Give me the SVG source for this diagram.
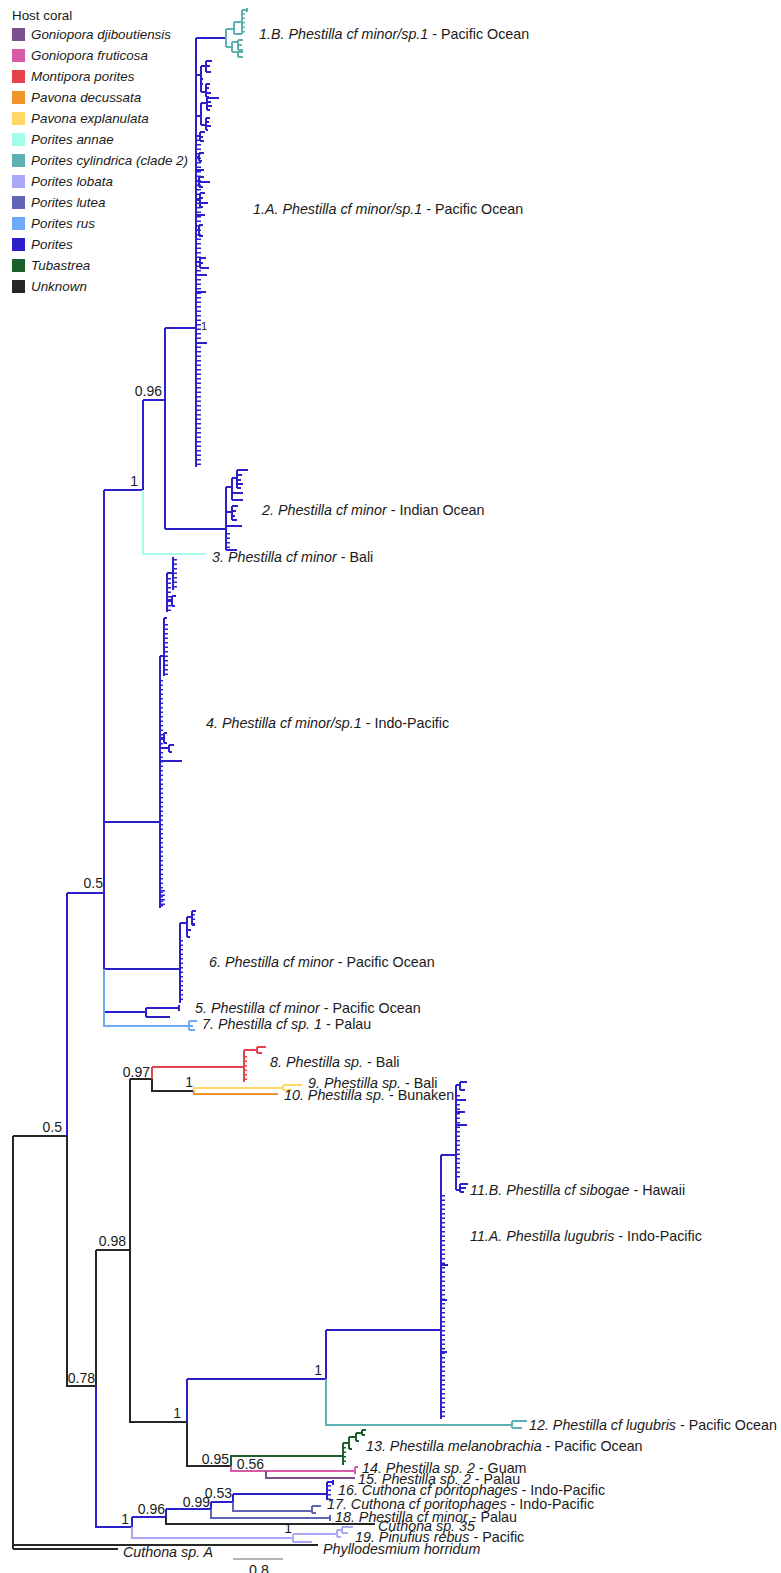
<svg xmlns="http://www.w3.org/2000/svg" width="781" height="1573" viewBox="0 0 781 1573">
<style>
text{font-family:"Liberation Sans",Arial,sans-serif;fill:#1a1a1a}
.lab{font-size:14.3px}
.sup{font-size:14px;text-anchor:end}
.leg{font-size:13.4px;font-style:italic}
.i{font-style:italic}
path,line{fill:none;stroke-width:2}
.b{stroke:#2B20CC}
.t{stroke:#5FB0B0}
.c{stroke:#A6FCEB}
.lb{stroke:#6EA9F7}
.r{stroke:#E5424B}
.y{stroke:#FFD865}
.o{stroke:#EF952B}
.g{stroke:#1C5F2B}
.p{stroke:#D75BA6}
.pu{stroke:#7B4E8E}
.s{stroke:#6065B6}
.l{stroke:#ABA8F8}
.k{stroke:#262626}
.cm{stroke-dasharray:1.5 3}
line.w3{stroke-width:3}
line.w4{stroke-width:4}
line.w5{stroke-width:5}
.bar{stroke:#666;stroke-width:1}
</style>
<rect width="781" height="1573" fill="#ffffff"/>

<g id="legend">
  <text x="12" y="20" style="font-size:13.4px">Host coral</text>
  <g id="leg-gdj"><rect x="12" y="28" width="13" height="13" fill="#7B4E8E"/><text class="leg" x="31" y="39">Goniopora djiboutiensis</text></g>
  <g id="leg-gfr"><rect x="12" y="49" width="13" height="13" fill="#D75BA6"/><text class="leg" x="31" y="60">Goniopora fruticosa</text></g>
  <g id="leg-mpo"><rect x="12" y="70" width="13" height="13" fill="#E5424B"/><text class="leg" x="31" y="81">Montipora porites</text></g>
  <g id="leg-pde"><rect x="12" y="91" width="13" height="13" fill="#EF952B"/><text class="leg" x="31" y="102">Pavona decussata</text></g>
  <g id="leg-pex"><rect x="12" y="112" width="13" height="13" fill="#FFD865"/><text class="leg" x="31" y="123">Pavona explanulata</text></g>
  <g id="leg-pan"><rect x="12" y="133" width="13" height="13" fill="#A6FCEB"/><text class="leg" x="31" y="144">Porites annae</text></g>
  <g id="leg-pcy"><rect x="12" y="154" width="13" height="13" fill="#5FB0B0"/><text class="leg" x="31" y="165">Porites cylindrica (clade 2)</text></g>
  <g id="leg-plo"><rect x="12" y="175" width="13" height="13" fill="#ABA8F8"/><text class="leg" x="31" y="186">Porites lobata</text></g>
  <g id="leg-plu"><rect x="12" y="196" width="13" height="13" fill="#6065B6"/><text class="leg" x="31" y="207">Porites lutea</text></g>
  <g id="leg-pru"><rect x="12" y="217" width="13" height="13" fill="#6EA9F7"/><text class="leg" x="31" y="228">Porites rus</text></g>
  <g id="leg-por"><rect x="12" y="238" width="13" height="13" fill="#2B20CC"/><text class="leg" x="31" y="249">Porites</text></g>
  <g id="leg-tub"><rect x="12" y="259" width="13" height="13" fill="#1C5F2B"/><text class="leg" x="31" y="270">Tubastrea</text></g>
  <g id="leg-unk"><rect x="12" y="280" width="13" height="13" fill="#262626"/><text class="leg" x="31" y="291">Unknown</text></g>
</g>

<g id="connectors">
  <!-- black backbone -->
  <path class="k" d="M13 1136V1549M13 1136H67M13 1545H318M13 1549H118M67 1136V1386H96M96 1250V1386M96 1250H130M130 1079V1422H187M130 1079H152M152 1079V1091H194M187 1422V1466H231M166 1517V1524H375"/>
  <!-- blue upper -->
  <path class="b" d="M67 893V1136M67 893H104M104 490V969M104 490H143M143 400V490M143 400H165M165 328V529M165 328H196M165 529H226M196 38V467M196 38H226"/>
  <!-- 1.A subclades -->
  <path class="b" d="M196 75H201M201 66V92M201 66H206M206 61V72M206 61H212M206 66H210M206 72H211M201 92H206M206 84V97M206 84H210M206 88H209M206 93H211M206 97H209M201 79H203M201 84H203
  M196 116H201M201 103V125M201 103H207M207 98V110M207 98H219M207 102H211M207 106H212M207 110H210M201 125H206M206 118V130M206 118H210M206 122H209M206 126H211M206 130H208
  M196 136H200M200 132V141M200 132H205M200 137H203M200 141H204
  M196 157H199M199 153V161M199 153H204M199 161H202
  M196 170H204
  M196 181H199M199 177V187M199 177H204M199 182H210M199 187H203
  M196 200H200M200 193V207M200 193H205M200 198H203M200 203H208M200 207H203
  M196 215H205M196 230H199M199 225V236M199 225H203M199 236H203
  M196 262H200M200 258V268M200 258H206M200 263H203M200 268H209M196 275H207M196 292H206M196 343H207"/>
  <line class="b cm w5" x1="198.5" y1="135" x2="198.5" y2="467"/>
  <!-- 1.B teal -->
  <path class="t" d="M226 29V47M226 29H234M234 22V34M234 22H242M242 10V34M234 34H242M242 10H247M247 8V12M226 47H232M232 42V52M232 42H238M238 40V50M238 40H243M238 45H242M238 50H243M232 52H238M238 52V57M238 52H243M238 57H243"/>
  <line class="t cm w3" x1="243.5" y1="13" x2="243.5" y2="33"/>
  <!-- clade 2 -->
  <path class="b" d="M226 487V550M226 487H232M232 478V500M232 478H237M237 470V488M237 470H248M237 475H242M237 480H241M237 484H243M237 488H241M232 493H243M232 500H243M226 512H232M232 506V520M232 506H238M232 511H236M232 516H235M232 520H237M226 526H242M226 550H237"/>
  <line class="b cm w4" x1="228" y1="533" x2="228" y2="548"/>
  <!-- clade 3 -->
  <path class="c" d="M143 490V554H206"/>
  <!-- clade 4 -->
  <path class="b" d="M104 822H160M160 656V908M160 656H164M164 618V676M164 618H167M167 573V612M167 573H173M173 557V590M167 600H172M172 596V606M172 596H176M172 606H175M160 738H164M164 733V743M164 733H167M164 743H167M160 748H169M169 745V752M169 745H174M169 752H172M160 761H182"/>
  <line class="b cm w4" x1="175" y1="559" x2="175" y2="590"/>
  <line class="b cm w4" x1="169" y1="578" x2="169" y2="612"/>
  <line class="b cm w4" x1="166" y1="624" x2="166" y2="676"/>
  <line class="b cm w3" x1="161.5" y1="680" x2="161.5" y2="908"/>
  <line class="b cm w5" x1="162.5" y1="890" x2="162.5" y2="907"/>
  <!-- clade 6 -->
  <path class="b" d="M104 969H180M180 923V1003M180 923H187M187 917V937M187 930H191M187 937H190M187 917H192M192 911V925M192 911H196M192 925H195"/>
  <line class="b cm w3" x1="181.5" y1="940" x2="181.5" y2="1003"/>
  <line class="b cm w3" x1="193.5" y1="914" x2="193.5" y2="924"/>
  <!-- clade 5 -->
  <path class="b" d="M104 1012H146M146 1008V1017M146 1008H179M179 1005V1011M146 1017H170"/>
  <!-- clade 7 -->
  <path class="lb" d="M104 969V1026H189M189 1021V1030M189 1021H197M189 1026H193M189 1030H195"/>
  <!-- clade 8 -->
  <path class="r" d="M152 1067V1079M152 1067H244M244 1050V1082M244 1050H257M257 1047V1053M257 1047H266M257 1053H262"/>
  <line class="r cm w3" x1="245.5" y1="1056" x2="245.5" y2="1082"/>
  <!-- clades 9 / 10 -->
  <path class="y" d="M194 1091V1088H283M283 1085V1090M283 1085H302M283 1090H292"/>
  <path class="o" d="M194 1091V1094H278"/>
  <!-- clade 11 -->
  <path class="b" d="M187 1379V1422M187 1379H326M326 1330V1379M326 1330H441M441 1155V1419M441 1155H456M456 1085V1190M456 1085H460M460 1082V1090M460 1082H467M460 1090H465M456 1100H466M456 1112H465M456 1125H467M456 1190H460M460 1184V1192M460 1184H468M460 1188H466M460 1192H464M441 1265H448M441 1300H447M441 1352H447"/>
  <line class="b cm w4" x1="458" y1="1095" x2="458" y2="1178"/>
  <line class="b cm w4" x1="443" y1="1195" x2="443" y2="1419"/>
  <!-- clade 12 -->
  <path class="t" d="M326 1379V1425H512M512 1421V1428M512 1421H527M512 1428H522"/>
  <!-- clade 13 -->
  <path class="g" d="M231 1466V1456H343M343 1443V1465M343 1443H349M349 1437V1449M349 1449H352M349 1437H356M356 1433V1441M356 1441H359M356 1433H362M362 1430V1435M362 1430H366M362 1435H365"/>
  <line class="g cm w3" x1="344.5" y1="1447" x2="344.5" y2="1465"/>
  <!-- clades 14 / 15 -->
  <path class="p" d="M231 1466V1471H355M355 1467V1474M355 1467H358"/>
  <path class="pu" d="M266 1471V1478H355"/>
  <!-- clades 16 - 18 -->
  <path class="b" d="M96 1386V1527H132M132 1517V1527M132 1517H166M166 1509V1517M166 1509H211M211 1502V1509M211 1502H233M233 1494V1502M233 1494H327M327 1482V1500M327 1482H333M333 1480V1485"/>
  <line class="b cm w4" x1="329" y1="1485" x2="329" y2="1500"/>
  <path class="s" d="M233 1502V1511H312M312 1506V1513M312 1506H321M312 1513H316M211 1509V1518H330M330 1515V1521"/>
  <!-- clade 19 -->
  <path class="l" d="M132 1527V1538H293M293 1534V1542M293 1542H312M293 1534H337M337 1530V1537M337 1537H341M337 1530H342M342 1527V1533M342 1527H353M342 1533H348"/>
  <!-- scale bar -->
  <path class="bar" d="M233 1559H283"/>
</g>

<g id="support">
  <text class="sup" x="62" y="1132">0.5</text>
  <text class="sup" x="103" y="888">0.5</text>
  <text class="sup" x="138" y="486">1</text>
  <text class="sup" x="162" y="396">0.96</text>
  <text x="201" y="330" style="font-size:11px">1</text>
  <text class="sup" x="150" y="1077">0.97</text>
  <text class="sup" x="193" y="1087">1</text>
  <text class="sup" x="126" y="1246">0.98</text>
  <text class="sup" x="181" y="1418">1</text>
  <text class="sup" x="322" y="1375">1</text>
  <text class="sup" x="95" y="1383">0.78</text>
  <text class="sup" x="229" y="1464">0.95</text>
  <text class="sup" x="264" y="1469">0.56</text>
  <text class="sup" x="232" y="1498">0.53</text>
  <text class="sup" x="210" y="1507">0.99</text>
  <text class="sup" x="165" y="1514">0.96</text>
  <text class="sup" x="129" y="1524">1</text>
  <text class="sup" x="292" y="1533">1</text>
</g>

<g id="tips">
  <g id="clade-1B"><text class="lab" x="259" y="39"><tspan class="i">1.B. Phestilla cf minor/sp.1</tspan> - Pacific Ocean</text></g>
  <g id="clade-1A"><text class="lab" x="253" y="214"><tspan class="i">1.A. Phestilla cf minor/sp.1</tspan> - Pacific Ocean</text></g>
  <g id="clade-2"><text class="lab" x="262" y="515"><tspan class="i">2. Phestilla cf minor</tspan> - Indian Ocean</text></g>
  <g id="clade-3"><text class="lab" x="212" y="562"><tspan class="i">3. Phestilla cf minor</tspan> - Bali</text></g>
  <g id="clade-4"><text class="lab" x="206" y="728"><tspan class="i">4. Phestilla cf minor/sp.1</tspan> - Indo-Pacific</text></g>
  <g id="clade-6"><text class="lab" x="209" y="967"><tspan class="i">6. Phestilla cf minor</tspan> - Pacific Ocean</text></g>
  <g id="clade-5"><text class="lab" x="195" y="1013"><tspan class="i">5. Phestilla cf minor</tspan> - Pacific Ocean</text></g>
  <g id="clade-7"><text class="lab" x="202" y="1029"><tspan class="i">7. Phestilla cf sp. 1</tspan> - Palau</text></g>
  <g id="clade-8"><text class="lab" x="270" y="1067"><tspan class="i">8. Phestilla sp.</tspan> - Bali</text></g>
  <g id="clade-9"><text class="lab" x="308" y="1088"><tspan class="i">9. Phestilla sp.</tspan> - Bali</text></g>
  <g id="clade-10"><text class="lab" x="284" y="1100"><tspan class="i">10. Phestilla sp.</tspan> - Bunaken</text></g>
  <g id="clade-11B"><text class="lab" x="470" y="1195"><tspan class="i">11.B. Phestilla cf sibogae</tspan> - Hawaii</text></g>
  <g id="clade-11A"><text class="lab" x="470" y="1241"><tspan class="i">11.A. Phestilla lugubris</tspan> - Indo-Pacific</text></g>
  <g id="clade-12"><text class="lab" x="529" y="1430"><tspan class="i">12. Phestilla cf lugubris</tspan> - Pacific Ocean</text></g>
  <g id="clade-13"><text class="lab" x="366" y="1451"><tspan class="i">13. Phestilla melanobrachia</tspan> - Pacific Ocean</text></g>
  <g id="clade-14"><text class="lab" x="362" y="1473"><tspan class="i">14. Phestilla sp. 2</tspan> - Guam</text></g>
  <g id="clade-15"><text class="lab" x="358" y="1484"><tspan class="i">15. Phestilla sp. 2</tspan> - Palau</text></g>
  <g id="clade-16"><text class="lab" x="338" y="1495"><tspan class="i">16. Cuthona cf poritophages</tspan> - Indo-Pacific</text></g>
  <g id="clade-17"><text class="lab" x="327" y="1509"><tspan class="i">17. Cuthona cf poritophages</tspan> - Indo-Pacific</text></g>
  <g id="clade-18"><text class="lab" x="335" y="1522"><tspan class="i">18. Phestilla cf minor</tspan> - Palau</text></g>
  <g id="tip-c35"><text class="lab i" x="378" y="1531">Cuthona sp. 35</text></g>
  <g id="clade-19"><text class="lab" x="355" y="1542"><tspan class="i">19. Pinufius rebus</tspan> - Pacific</text></g>
  <g id="tip-phy"><text class="lab i" x="323" y="1554">Phyllodesmium horridum</text></g>
  <g id="tip-cA"><text class="lab i" x="123" y="1557">Cuthona sp. A</text></g>
  <g id="scale"><text class="lab" x="259" y="1575" text-anchor="middle">0.8</text></g>
</g>
</svg>
